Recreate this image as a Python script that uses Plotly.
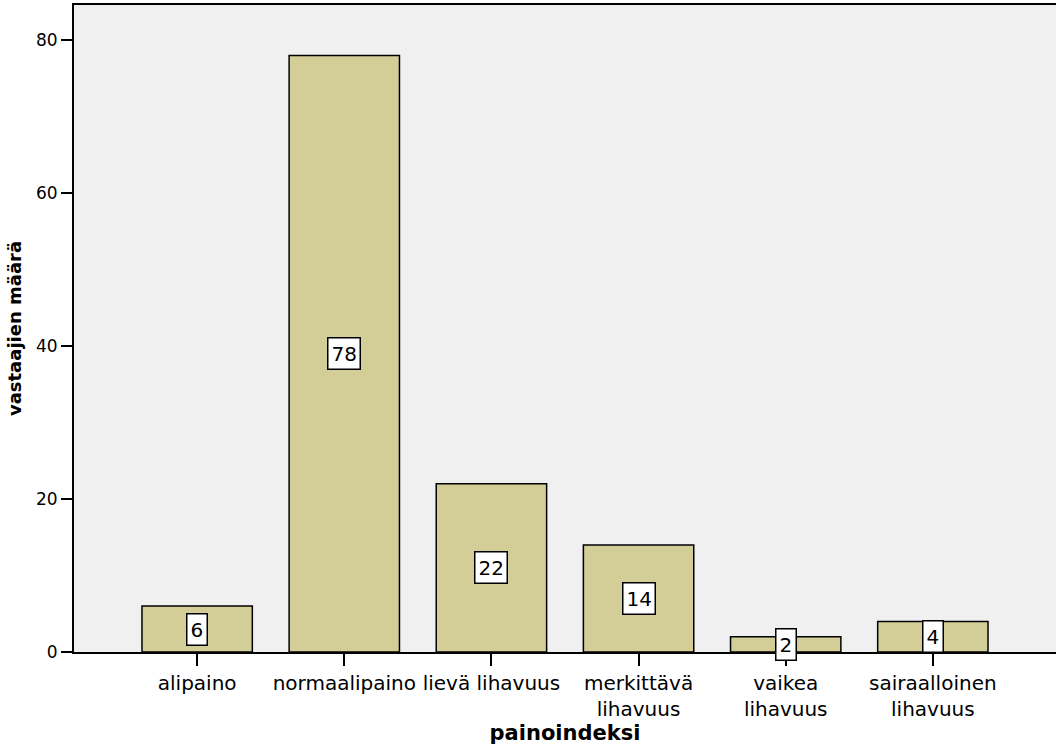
import plotly.graph_objects as go

categories = ["alipaino", "normaalipaino", "lievä lihavuus", "merkittävä<br>lihavuus",
              "vaikea<br>lihavuus", "sairaalloinen<br>lihavuus"]
counts = [6, 78, 22, 14, 2, 4]
y_ticks = [0, 20, 40, 60, 80]

bar_color = "#d3ce98"
font_family = "DejaVu Sans, Arial, sans-serif"

fig = go.Figure()
fig.add_trace(go.Bar(
    x=list(range(len(categories))),
    y=counts,
    width=0.75,
    marker=dict(color=bar_color, line=dict(color="black", width=1.5)),
    hoverinfo="skip",
))

for i, v in enumerate(counts):
    fig.add_annotation(
        x=i, y=v / 2, text=str(v), showarrow=False,
        font=dict(family=font_family, size=20, color="black"),
        bgcolor="white", bordercolor="black", borderwidth=1.5, borderpad=3,
    )

fig.update_layout(
    width=1056, height=748,
    margin=dict(l=74, r=0, t=5, b=96),
    paper_bgcolor="white",
    plot_bgcolor="#f0f0f0",
    showlegend=False,
    font=dict(family=font_family, color="black"),
    bargap=0.25,
)

fig.update_xaxes(
    range=[-0.837, 5.837],
    tickmode="array",
    tickvals=list(range(len(categories))),
    ticktext=categories,
    ticks="outside", ticklen=12, tickwidth=2, tickcolor="black",
    tickfont=dict(size=20, family=font_family),
    showline=True, linecolor="black", linewidth=2, mirror=True,
    showgrid=False, zeroline=False,
    title=dict(text="<b>painoindeksi</b>", font=dict(size=21, family=font_family), standoff=2),
)

fig.update_yaxes(
    range=[0, 84.6],
    tickmode="array",
    tickvals=y_ticks,
    ticks="outside", ticklen=11, tickwidth=2, tickcolor="black",
    tickfont=dict(size=17, family=font_family),
    showline=True, linecolor="black", linewidth=2, mirror=False,
    showgrid=False, zeroline=False,
    title=dict(text="<b>vastaajien määrä</b>", font=dict(size=18, family=font_family), standoff=10),
)

fig.write_html("out.html")
